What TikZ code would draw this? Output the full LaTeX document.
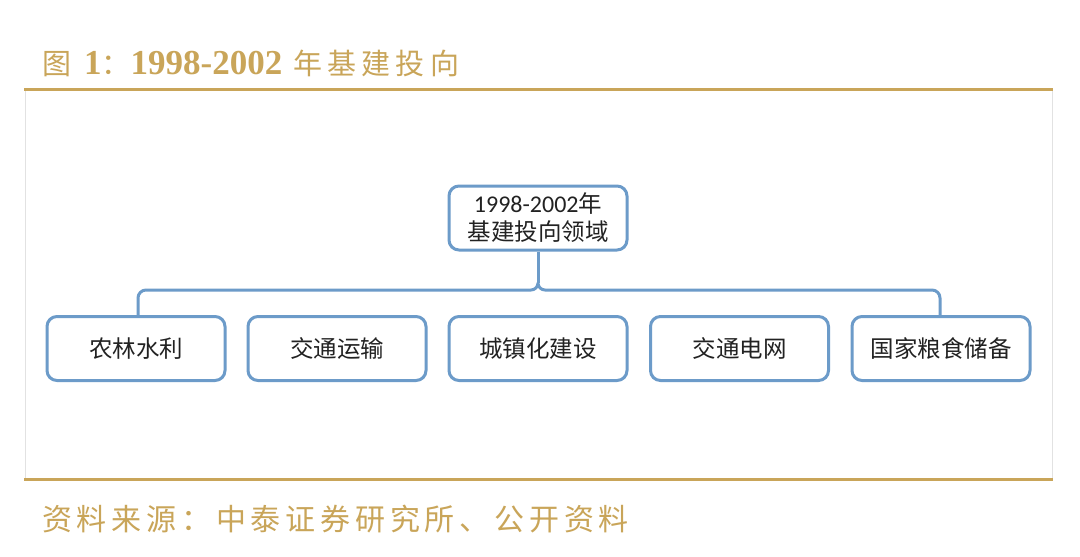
\documentclass[tikz,border=0pt]{standalone}
\usepackage{fontspec}
\setmainfont{Liberation Serif}
\newfontfamily\cjk{Noto Sans CJK SC}
\newfontfamily\cjkwide[LetterSpace=16]{Noto Sans CJK SC}
\newfontfamily\cjktitle[LetterSpace=18]{Noto Sans CJK SC}
\newfontfamily\carlitofont{Carlito}
\definecolor{gold}{HTML}{C9A559}
\definecolor{boxblue}{HTML}{6C9BC9}
\definecolor{txt}{HTML}{222222}
\definecolor{panelgray}{HTML}{E2E2E2}
\begin{document}
\begin{tikzpicture}[x=1pt,y=-1pt,
  box/.style={draw=boxblue,line width=3pt,rounded corners=10pt,fill=white,
    minimum width=178pt,minimum height=64pt,inner sep=0pt,align=center,text=txt,
    font=\cjk\fontsize{23.5}{28}\selectfont},
  bus/.style={draw=boxblue,line width=3pt}]
\useasboundingbox (0,0) rectangle (1080,557);
\fill[white] (0,0) rectangle (1080,557);
% panel
\draw[panelgray,line width=1pt] (25,90) -- (25,479);
\draw[panelgray,line width=1pt] (1052,90) -- (1052,479);
\draw[gold,line width=3pt] (24,89) -- (1053,89);
\draw[gold,line width=3pt] (24,479) -- (1053,479);
% title
\node[anchor=base west,inner sep=0pt,text=gold] (title) at (42,74)
  {{\cjk\fontsize{29}{30}\selectfont 图}\hspace{13pt}{\bfseries\fontsize{35}{36}\selectfont 1}{\cjk\fontsize{29}{30}\selectfont ：}{\bfseries\fontsize{35}{36}\selectfont 1998-2002}\hspace{11pt}{\cjktitle\fontsize{29}{30}\selectfont 年基建投向}};
% source
\node[anchor=base west,inner sep=0pt,text=gold,font=\cjkwide\fontsize{30}{32}\selectfont] (src) at (42,530)
  {资料来源：中泰证券研究所、公开资料};
% boxes
\node[box] (top) at (538,218) {{\carlitofont\fontsize{24}{28}\selectfont 1998-2002}年\\[0pt]基建投向领域};
\node[box] (b1) at (136,348.5) {农林水利};
\node[box] (b2) at (337,348.5) {交通运输};
\node[box] (b3) at (538,348.5) {城镇化建设};
\node[box] (b4) at (739.5,348.5) {交通电网};
\node[box] (b5) at (941,348.5) {国家粮食储备};
% connector
\coordinate (tip) at (538,283);
\coordinate (lc) at (138,290);
\coordinate (rc) at (940,290);
\coordinate (lcb) at (138,298);
\coordinate (rcb) at (940,298);
\draw[bus] (top.south) -- (tip);
\draw[bus,line join=round] (b1.north -| lc) -- (lcb) to[out=90,in=180] (146,290) -- (531,290)
  to[out=0,in=-90] (tip) to[out=-90,in=180] (545,290) -- (932,290)
  to[out=0,in=90] (rcb) -- (b5.north -| rc);
\end{tikzpicture}
\end{document}
